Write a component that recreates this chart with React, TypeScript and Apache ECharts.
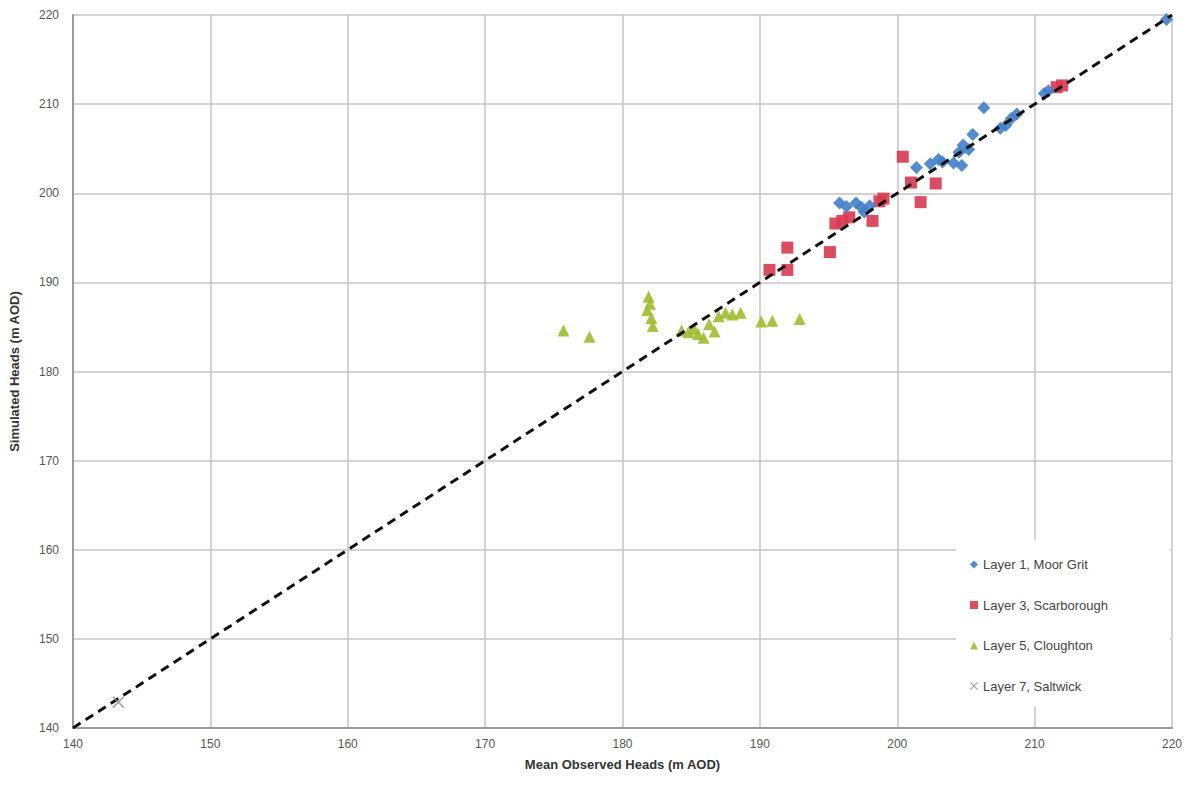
import React, { useEffect, useRef } from "react";
import * as echarts from "echarts";

const layer1MoorGrit: [number, number][] = [
  [195.8, 198.9], [196.3, 198.5], [197.0, 198.9], [197.4, 198.4], [197.6, 197.9], [198.0, 198.6],
  [201.4, 202.9], [202.4, 203.3], [203.0, 203.8], [203.3, 203.5], [204.1, 203.4], [204.5, 204.6],
  [204.7, 203.1], [204.8, 205.4], [205.2, 204.9], [205.5, 206.6], [206.3, 209.6], [207.5, 207.3],
  [207.9, 207.6], [208.3, 208.4], [208.7, 208.9], [210.7, 211.2], [211.0, 211.5], [219.6, 219.5],
];

const layer3Scarborough: [number, number][] = [
  [190.7, 191.4], [192.0, 193.9], [192.0, 191.4], [195.1, 193.4], [195.5, 196.6], [196.0, 196.9],
  [196.5, 197.3], [198.2, 196.9], [198.7, 199.1], [199.0, 199.4], [200.4, 204.1], [201.0, 201.2],
  [202.8, 201.1], [201.7, 199.0], [211.6, 211.9], [212.0, 212.1],
];

const layer5Cloughton: [number, number][] = [
  [175.7, 184.6], [177.6, 183.9], [181.9, 188.4], [182.0, 187.6], [181.8, 186.9], [182.1, 186.0],
  [182.2, 185.1], [184.3, 184.6], [184.8, 184.4], [185.2, 184.8], [185.5, 184.2], [185.9, 183.8],
  [186.3, 185.3], [186.7, 184.5], [187.0, 186.2], [187.5, 186.6], [188.0, 186.4], [188.6, 186.6],
  [190.1, 185.6], [190.9, 185.7], [192.9, 185.9],
];

const layer7Saltwick: [number, number][] = [[143.3, 142.9]];

const oneToOne: [number, number][] = [[140, 140], [220, 220]];

const xMark = "path://M1,0L5,4L9,0L10,1L6,5L10,9L9,10L5,6L1,10L0,9L4,5L0,1Z";

export default function App() {
  const ref = useRef<HTMLDivElement>(null);
  useEffect(() => {
    if (!ref.current) return;
    const chart = echarts.init(ref.current, null, { renderer: "svg" });
    const axisCommon = {
      type: "value" as const,
      min: 140,
      max: 220,
      interval: 10,
      axisLine: { show: true, lineStyle: { color: "#9a9a9a", width: 2 } },
      axisTick: { show: false },
      splitLine: { show: true, lineStyle: { color: "#c4c4c4", width: 1.5 } },
      axisLabel: { color: "#555", fontSize: 12, fontFamily: "Liberation Sans, Arial" },
      nameLocation: "middle" as const,
      nameTextStyle: { color: "#333", fontSize: 13, fontWeight: "bold" as const, fontFamily: "Liberation Sans, Arial" },
    };
    chart.setOption({
      animation: false,
      backgroundColor: "#ffffff",
      grid: { left: 72, right: 20, top: 15, bottom: 61, containLabel: false },
      xAxis: { ...axisCommon, name: "Mean Observed Heads (m AOD)", nameGap: 30, axisLabel: { ...axisCommon.axisLabel, margin: 10 } },
      yAxis: { ...axisCommon, name: "Simulated Heads (m AOD)", nameGap: 52, axisLabel: { ...axisCommon.axisLabel, margin: 14 } },
      legend: {
        orient: "vertical",
        left: 956,
        top: 540,
        padding: [18, 62, 14, 14],
        backgroundColor: "#ffffff",
        itemGap: 27.5,
        itemWidth: 8,
        itemHeight: 8,
        textStyle: { color: "#444", fontSize: 13, fontFamily: "Liberation Sans, Arial" },
        data: ["Layer 1, Moor Grit", "Layer 3, Scarborough", "Layer 5, Cloughton", "Layer 7, Saltwick"],
      },
      series: [
        {
          name: "1:1",
          type: "line",
          data: oneToOne,
          symbol: "none",
          lineStyle: { color: "#111", width: 3, type: [9, 6] },
          z: 3,
          silent: true,
        },
        {
          name: "Layer 5, Cloughton",
          type: "scatter",
          data: layer5Cloughton,
          symbol: "triangle",
          symbolSize: 12,
          itemStyle: { color: "#9fbb2c", opacity: 0.9 },
          z: 2,
        },
        {
          name: "Layer 3, Scarborough",
          type: "scatter",
          data: layer3Scarborough,
          symbol: "rect",
          symbolSize: 12,
          itemStyle: { color: "#d8394f", opacity: 0.9 },
          z: 2,
        },
        {
          name: "Layer 1, Moor Grit",
          type: "scatter",
          data: layer1MoorGrit,
          symbol: "diamond",
          symbolSize: 13,
          itemStyle: { color: "#3f7ecb", opacity: 0.9 },
          z: 2,
        },
        {
          name: "Layer 7, Saltwick",
          type: "scatter",
          data: layer7Saltwick,
          symbol: xMark,
          symbolSize: 12,
          itemStyle: { color: "#8a8a8a" },
          z: 4,
        },
      ],
    });
    return () => chart.dispose();
  }, []);
  return (
    <div
      ref={ref}
      style={{ position: "fixed", left: 0, top: 0, width: 1192, height: 789, background: "#fff" }}
    />
  );
}
